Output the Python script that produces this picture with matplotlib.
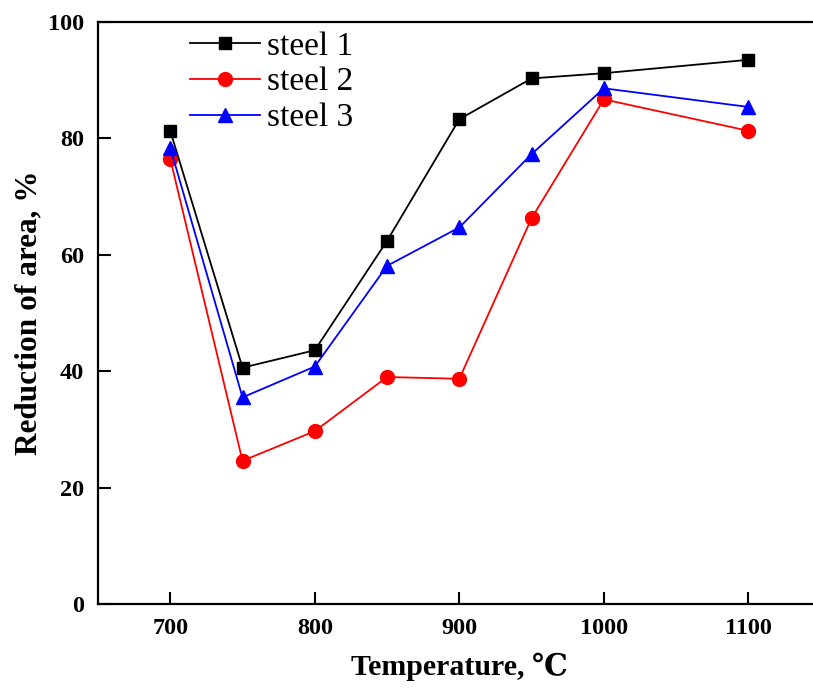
import matplotlib
matplotlib.use("Agg")
import matplotlib.pyplot as plt

plt.rcParams['font.family'] = ['Liberation Serif', 'DejaVu Serif']

temps = [700, 750, 800, 850, 900, 950, 1000, 1100]
steel1 = [81.3, 40.6, 43.6, 62.4, 83.3, 90.3, 91.2, 93.5]
steel2 = [76.5, 24.6, 29.7, 39.0, 38.7, 66.3, 86.7, 81.3]
steel3 = [78.4, 35.5, 40.8, 58.1, 64.7, 77.3, 88.6, 85.4]

fig = plt.figure(figsize=(8.13, 6.91), dpi=100)
ax = fig.add_axes([0.1205, 0.1259, 0.889, 0.8423])

ax.plot(temps, steel1, color="black", marker="s", markersize=9, lw=1.3, label="steel 1")
ax.plot(temps, steel2, color="red", marker="o", markersize=10, lw=1.3, label="steel 2")
ax.plot(temps, steel3, color="blue", marker="^", markersize=10.5, lw=1.3, label="steel 3")

ax.set_xlim(650, 1150)
ax.set_ylim(0, 100)
ax.set_xticks([700, 800, 900, 1000, 1100])
ax.set_yticks([0, 20, 40, 60, 80, 100])
ax.tick_params(direction="in", length=9, width=1.5, labelsize=17.5, pad=10)
for lab in ax.get_xticklabels() + ax.get_yticklabels():
    lab.set_fontweight("bold")
for s in ax.spines.values():
    s.set_linewidth(1.6)

ax.set_xlabel("Temperature, ℃", fontsize=21.5, fontweight="bold", labelpad=10)
ax.set_ylabel("Reduction of area, %", fontsize=22.5, fontweight="bold", labelpad=3)

ax.legend(loc="upper left", bbox_to_anchor=(0.086, 1.036), frameon=False,
          fontsize=24, handlelength=2.1, handletextpad=0.2, labelspacing=0.16)

fig.savefig("out.png", dpi=100)
